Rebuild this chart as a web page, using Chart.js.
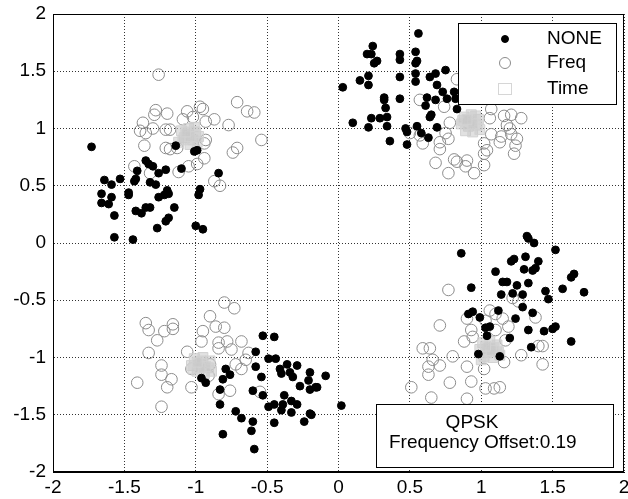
<!DOCTYPE html>
<html>
<head>
<meta charset="utf-8">
<script src="https://cdn.jsdelivr.net/npm/chart.js@4/dist/chart.umd.min.js"></script>
<style>
html,body{margin:0;padding:0;background:#fff;}
#wrap{width:628px;height:499px;}
</style>
</head>
<body>
<div id="wrap"><canvas id="c" width="628" height="499"></canvas></div>
<script>
// ---- Data ----
const seriesNames = ["NONE", "Freq", "Time"];
const tickValues = [-2, -1.5, -1, -0.5, 0, 0.5, 1, 1.5, 2];
const annotationLines = ["QPSK", "Frequency Offset:0.19"];

const noneData = [
  // upper-left
  [-1.73,0.84],[-1.35,0.72],[-1.33,0.69],[-1.30,0.67],[-1.41,0.63],[-1.21,0.64],[-1.26,0.61],[-1.42,0.56],
  [-1.53,0.56],[-1.64,0.55],[-1.59,0.51],[-1.32,0.53],[-1.28,0.51],[-1.43,0.54],[-1.66,0.43],[-1.59,0.40],
  [-1.47,0.44],[-1.47,0.42],[-1.20,0.46],[-1.19,0.43],[-1.26,0.40],[-1.22,0.42],[-1.66,0.35],[-1.61,0.34],
  [-1.42,0.28],[-1.38,0.26],[-1.35,0.31],[-1.32,0.31],[-1.15,0.31],[-1.57,0.24],[-1.19,0.22],[-1.21,0.19],
  [-1.27,0.13],[-1.57,0.05],[-1.44,0.03],[-1.00,0.15],[-0.95,0.12],[-0.97,0.47],[-0.98,0.42],[-0.84,0.61],
  [-1.01,0.80],[-0.99,0.81],[-1.14,0.85],[-1.10,0.65],
  // upper-right
  [0.56,1.83],[0.24,1.72],[0.20,1.65],[0.23,1.65],[0.25,1.57],[0.27,1.59],[0.43,1.65],[0.43,1.60],
  [0.54,1.67],[0.55,1.59],[0.54,1.57],[0.75,1.51],[0.21,1.46],[0.15,1.42],[0.21,1.38],[0.03,1.36],
  [0.43,1.45],[0.54,1.48],[0.54,1.41],[0.64,1.45],[0.68,1.48],[0.69,1.38],[0.32,1.27],[0.32,1.25],
  [0.43,1.26],[0.73,1.32],[0.76,1.26],[0.62,1.27],[0.68,1.25],[0.82,1.26],[0.81,1.32],[0.61,1.20],
  [0.33,1.18],[0.83,1.17],[0.65,1.12],[0.64,1.10],[0.23,1.09],[0.29,1.09],[0.34,1.10],[0.10,1.05],
  [0.21,1.01],[0.34,1.02],[0.55,1.02],[0.69,1.01],[0.47,1.00],[0.48,0.97],[0.58,0.96],[0.36,0.89],
  [0.63,0.92],[0.48,0.86],
  // lower-left
  [-0.53,-0.81],[-0.45,-0.82],[-0.58,-0.95],[-0.49,-1.01],[-0.44,-1.01],[-0.58,-1.08],[-0.36,-1.06],[-0.29,-1.07],
  [-0.41,-1.10],[-0.40,-1.14],[-0.34,-1.13],[-0.32,-1.17],[-0.20,-1.13],[-0.09,-1.16],[-0.21,-1.20],[-0.54,-1.17],
  [-0.27,-1.25],[-0.20,-1.28],[-0.16,-1.26],[-0.60,-1.29],[-0.53,-1.33],[-0.38,-1.33],[-0.79,-1.10],[-0.76,-1.15],
  [-0.81,-1.19],[-0.96,-1.18],[-0.93,-1.22],[-0.83,-1.28],[-0.83,-1.41],[-0.72,-1.47],[-0.68,-1.53],[-0.60,-1.56],
  [-0.61,-1.64],[-0.81,-1.67],[-0.59,-1.80],[-0.49,-1.43],[-0.45,-1.41],[-0.39,-1.41],[-0.33,-1.38],[-0.29,-1.41],
  [-0.33,-1.48],[-0.40,-1.46],[-0.45,-1.57],[-0.24,-1.56],[-0.20,-1.49],[0.02,-1.42],[-0.15,-1.26],[-0.19,-1.50],
  // lower-right
  [1.32,0.06],[1.33,0.04],[1.37,0.00],[0.86,-0.09],[1.52,-0.06],[1.21,-0.16],[1.23,-0.14],[1.31,-0.12],
  [1.40,-0.16],[1.30,-0.23],[1.36,-0.24],[1.38,-0.22],[1.10,-0.25],[1.15,-0.34],[1.18,-0.34],[1.33,-0.35],
  [1.25,-0.37],[1.63,-0.30],[1.65,-0.27],[1.57,-0.40],[1.72,-0.43],[0.93,-0.39],[1.45,-0.42],[1.47,-0.49],
  [1.14,-0.45],[1.22,-0.44],[1.29,-0.45],[1.29,-0.56],[1.36,-0.61],[0.91,-0.62],[0.94,-0.60],[0.99,-0.65],
  [1.12,-0.59],[1.24,-0.66],[1.03,-0.74],[1.06,-0.73],[1.33,-0.76],[1.44,-0.77],[1.52,-0.73],[1.50,-0.75],
  [1.20,-0.83],[1.04,-0.81],[1.35,-0.91],[1.63,-0.86],[0.98,-0.97],[1.13,-0.99]
];

const freqData = [
  // upper-left
  [-1.26,1.47],[-0.71,1.23],[-0.64,1.15],[-0.59,1.14],[-0.97,1.19],[-0.95,1.17],[-1.28,1.16],[-1.29,1.12],
  [-1.20,1.13],[-1.06,1.15],[-1.02,1.10],[-1.09,1.08],[-0.93,1.06],[-0.87,1.08],[-0.77,1.03],[-1.37,1.05],
  [-1.39,0.98],[-1.35,0.96],[-1.30,1.00],[-1.21,0.99],[-1.18,0.99],[-0.54,0.90],[-0.93,0.90],[-0.94,0.87],
  [-1.36,0.85],[-1.21,0.83],[-1.18,0.82],[-1.13,0.83],[-0.71,0.83],[-0.74,0.79],[-0.94,0.74],[-0.99,0.69],
  [-1.05,0.67],[-1.12,0.62],[-1.43,0.67],[-1.32,0.61],[-0.87,0.54],[-0.83,0.50],
  // upper-right
  [0.83,1.43],[0.57,1.25],[0.74,1.19],[1.07,1.17],[1.16,1.11],[1.21,1.12],[1.28,1.09],[1.06,1.09],
  [0.78,1.05],[0.91,1.05],[1.18,1.03],[0.50,0.96],[0.57,0.94],[0.75,0.96],[0.77,0.91],[1.07,0.95],
  [1.14,0.93],[1.21,0.95],[1.25,0.91],[1.24,0.85],[1.13,0.88],[0.59,0.87],[0.71,0.88],[0.71,0.82],
  [1.02,0.87],[1.02,0.78],[1.04,0.81],[1.23,0.78],[0.68,0.70],[0.81,0.73],[0.83,0.71],[0.90,0.72],
  [0.89,0.67],[0.95,0.61],[0.77,0.61],[1.02,0.68],[1.20,1.00],
  // lower-left
  [-0.80,-0.52],[-0.73,-0.57],[-0.90,-0.64],[-1.35,-0.70],[-1.16,-0.71],[-1.33,-0.76],[-1.22,-0.77],[-1.16,-0.75],
  [-0.86,-0.73],[-0.80,-0.74],[-0.95,-0.77],[-1.27,-0.85],[-0.96,-0.86],[-0.84,-0.87],[-0.78,-0.86],[-0.68,-0.86],
  [-0.84,-0.92],[-0.75,-0.93],[-0.63,-0.96],[-1.33,-0.96],[-1.06,-0.95],[-1.24,-1.07],[-1.24,-1.15],[-1.17,-1.19],
  [-1.20,-1.26],[-1.41,-1.22],[-1.03,-1.26],[-1.24,-1.43],[-0.84,-1.32],[-0.76,-1.29],[-0.72,-1.06],[-0.68,-1.10],
  [-0.65,-1.02],[-0.55,-1.30],[-1.03,-1.10],[-0.90,-1.06],[-0.91,-1.16],
  // lower-right
  [0.77,-0.41],[0.71,-0.72],[1.22,-0.48],[1.26,-0.51],[1.06,-0.59],[1.10,-0.62],[0.90,-0.66],[1.03,-0.68],
  [1.15,-0.66],[1.19,-0.73],[1.38,-0.65],[0.93,-0.76],[1.10,-0.76],[0.88,-0.86],[0.94,-0.82],[1.17,-0.85],
  [1.40,-0.90],[1.43,-0.90],[0.59,-0.92],[0.64,-0.92],[0.80,-0.99],[0.66,-1.02],[0.71,-1.07],[0.63,-1.08],
  [0.63,-1.15],[0.90,-1.08],[1.02,-1.10],[1.16,-1.04],[1.28,-0.98],[1.43,-1.06],[0.78,-1.22],[0.93,-1.21],
  [0.51,-1.26],[0.65,-1.35],[0.90,-1.36],[1.03,-1.27],[1.09,-1.27],[1.13,-1.26]
];

const timeData = [
  [-1.10,0.98],[-1.05,1.00],[-1.00,0.97],[-1.08,0.92],[-1.02,0.90],[-0.98,0.93],[-1.12,0.88],[-1.04,0.86],
  [-0.99,0.88],[-1.06,0.95],[-1.01,1.01],[-1.09,0.90],[-1.04,0.93],[-1.07,0.97],
  [0.88,1.10],[0.93,1.12],[0.98,1.08],[0.86,1.04],[0.91,1.02],[0.97,1.03],[0.89,0.98],[0.94,0.97],
  [0.99,0.99],[0.92,1.06],[0.87,1.07],[0.96,1.11],[0.94,1.04],[0.90,1.08],
  [-1.01,-1.01],[-0.95,-1.00],[-0.90,-1.03],[-1.03,-1.07],[-0.97,-1.06],[-0.91,-1.09],[-0.99,-1.12],[-0.94,-1.14],
  [-0.89,-1.12],[-1.02,-1.10],[-0.96,-1.03],[-0.93,-1.08],[-0.97,-1.09],[-0.99,-1.04],
  [1.01,-0.87],[1.06,-0.86],[1.11,-0.89],[0.99,-0.93],[1.05,-0.92],[1.12,-0.95],[1.02,-0.99],[1.08,-1.00],
  [1.13,-0.98],[1.04,-0.96],[1.09,-0.91],[1.00,-1.02],[1.07,-0.94],[1.03,-0.90]
];

// ---- Styles ----
const FONT = "Liberation Sans, Arial, sans-serif";
const toPts = arr => arr.map(p => ({x: p[0], y: p[1]}));

const styles = {
  NONE: {pointStyle: 'circle', radius: 3.9, bg: '#000', border: '#000', bw: 1},
  Freq: {pointStyle: 'circle', radius: 5.8, bg: 'rgba(0,0,0,0)', border: '#8c8c8c', bw: 1},
  Time: {pointStyle: 'rect', radius: 7, bg: 'rgba(200,200,200,0.55)', border: '#d2d2d2', bw: 1}
};

function ds(name, data) {
  const s = styles[name];
  return {
    label: name, data: toPts(data), showLine: false,
    pointStyle: s.pointStyle, pointRadius: s.radius,
    pointBackgroundColor: s.bg, pointBorderColor: s.border, pointBorderWidth: s.bw,
    backgroundColor: s.bg, borderColor: s.border
  };
}

const overlayPlugin = {
  id: 'overlay',
  afterDraw(chart) {
    const ctx = chart.ctx;
    const a = chart.chartArea;
    ctx.save();
    // axes box
    ctx.strokeStyle = '#000';
    ctx.lineWidth = 1;
    ctx.setLineDash([]);
    ctx.strokeRect(Math.round(a.left) + 0.5, Math.round(a.top) + 0.5,
                   Math.round(a.right - a.left) - 1, Math.round(a.bottom - a.top) - 1);

    // legend
    const lx = a.right - 166, ly = a.top + 9, lw = 158, lh = 81;
    ctx.fillStyle = '#fff';
    ctx.fillRect(lx, ly, lw, lh);
    ctx.strokeStyle = '#000';
    ctx.strokeRect(lx + 0.5, ly + 0.5, lw, lh);
    const rows = [16, 40, 66];
    const mx = lx + 47, tx = lx + 89;
    seriesNames.forEach((name, i) => {
      const s = styles[name];
      const y = ly + rows[i];
      if (name === 'Time') {
        ctx.strokeStyle = '#d6d6d6';
        ctx.lineWidth = 1;
        ctx.strokeRect(mx - 6.5, y - 5.5, 13, 11);
      } else {
        ctx.beginPath();
        ctx.arc(mx, y, name === 'NONE' ? 3.5 : 5.5, 0, Math.PI * 2);
        if (name === 'NONE') { ctx.fillStyle = '#000'; ctx.fill(); }
        ctx.strokeStyle = s.border; ctx.lineWidth = 1; ctx.stroke();
      }
      ctx.fillStyle = '#000';
      ctx.font = '19px ' + FONT;
      ctx.textBaseline = 'middle';
      ctx.textAlign = 'left';
      ctx.fillText(name, tx, y);
    });

    // annotation box
    const bx = a.left + 323, by = a.bottom - 68, bw = 237, bh = 63;
    ctx.fillStyle = '#fff';
    ctx.fillRect(bx, by, bw, bh);
    ctx.strokeStyle = '#000';
    ctx.lineWidth = 1;
    ctx.strokeRect(bx + 0.5, by + 0.5, bw, bh);
    ctx.fillStyle = '#000';
    ctx.font = '19px ' + FONT;
    ctx.textBaseline = 'middle';
    ctx.textAlign = 'center';
    ctx.fillText(annotationLines[0], bx + 96, by + 19);
    ctx.textAlign = 'left';
    ctx.fillText(annotationLines[1], bx + 13, by + 39);
    ctx.restore();
  }
};

const axisCommon = {
  type: 'linear', min: -2, max: 2,
  afterBuildTicks: (scale) => { scale.ticks = tickValues.map(v => ({value: v})); },
  grid: { color: '#333', lineWidth: 1, drawTicks: false },
  border: { display: true, color: '#000', dash: [1, 2] },
  ticks: {
    color: '#000', font: {family: FONT, size: 19}, padding: 7,
    callback: v => String(v)
  }
};

new Chart(document.getElementById('c'), {
  type: 'scatter',
  data: {
    datasets: [ds('NONE', noneData), ds('Time', timeData), ds('Freq', freqData)]
  },
  options: {
    responsive: false,
    animation: false,
    events: [],
    layout: { autoPadding: false, padding: {top: 14, right: 4, left: 0, bottom: 0} },
    plugins: { legend: {display: false}, tooltip: {enabled: false} },
    scales: {
      x: Object.assign({}, axisCommon, {
        position: 'bottom',
        ticks: Object.assign({}, axisCommon.ticks, {padding: 4}),
        afterFit: s => { s.height = 27; s.paddingLeft = 0; s.paddingRight = 0; }
      }),
      y: Object.assign({}, axisCommon, {
        position: 'left',
        afterFit: s => { s.width = 53; s.paddingTop = 0; s.paddingBottom = 0; }
      })
    }
  },
  plugins: [overlayPlugin]
});
</script>
</body>
</html>
